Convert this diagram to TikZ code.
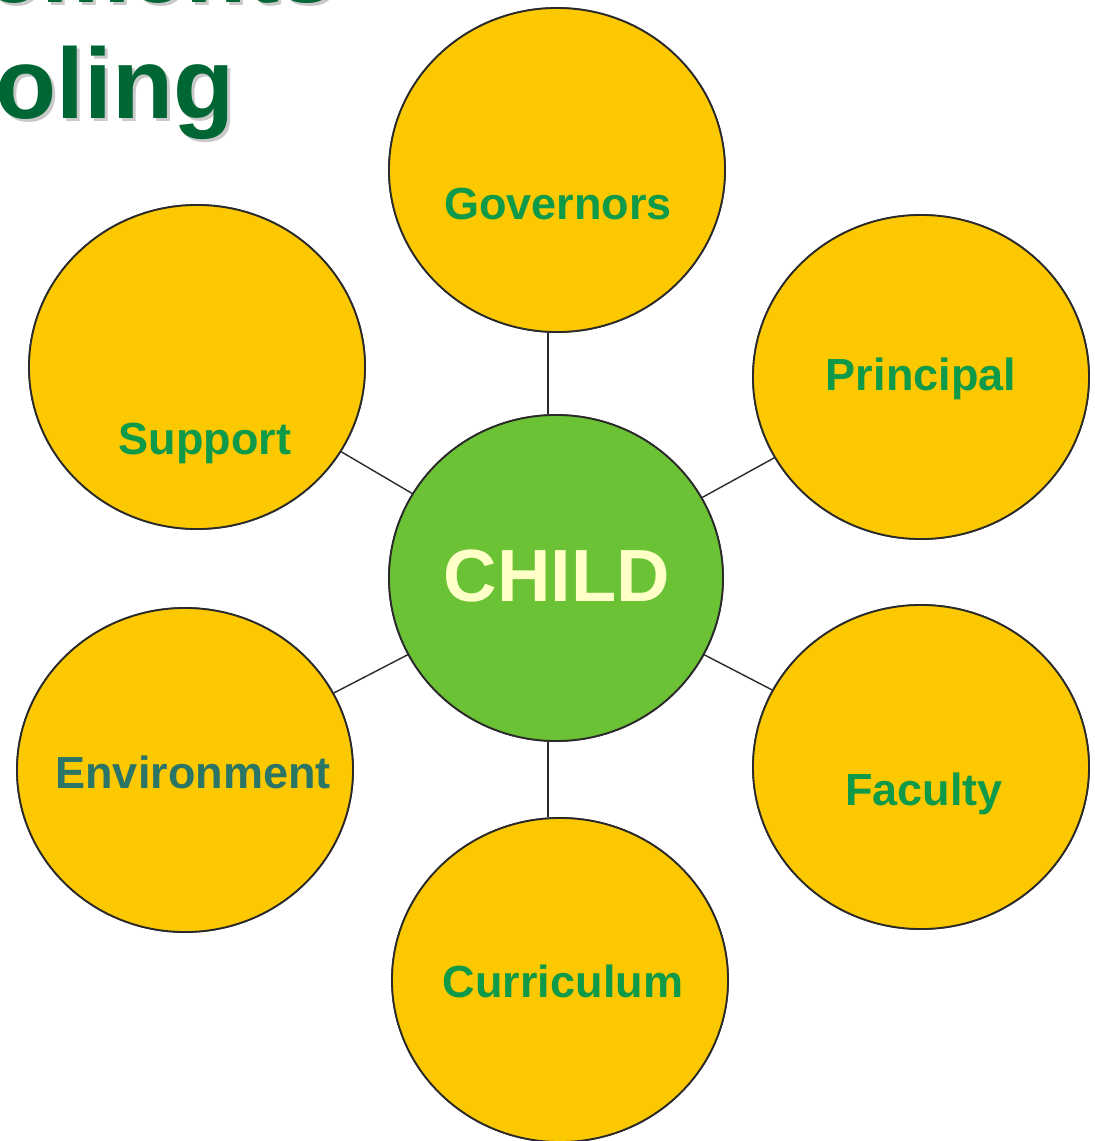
\documentclass[tikz,border=0pt]{standalone}
\usepackage{fontspec}
\setmainfont{Liberation Sans}
\usetikzlibrary{shapes.geometric}
\definecolor{gold}{HTML}{FCC800}
\definecolor{childgreen}{HTML}{6CC235}
\definecolor{childtext}{HTML}{FFFFC8}
\definecolor{labelgreen}{HTML}{0E9A48}
\definecolor{envteal}{HTML}{2A7566}
\definecolor{titlegreen}{HTML}{006633}
\definecolor{edge}{HTML}{2A2A2A}
\tikzset{
  bubble/.style={ellipse, draw=edge, line width=0.9pt, fill=gold, minimum width=168pt, minimum height=162pt, inner sep=0pt},
  childbubble/.style={bubble, fill=childgreen, minimum width=167pt, minimum height=163pt},
  lbl/.style={text=labelgreen, font=\fontsize{22.5}{27}\selectfont\bfseries, inner sep=0pt},
  link/.style={draw=edge, line width=0.7pt},
  title/.style={text=titlegreen, font=\fontsize{50}{60}\selectfont\bfseries, inner sep=0pt, anchor=base east},
  titleshadow/.style={text=black!35, opacity=0.6, font=\fontsize{50}{60}\selectfont\bfseries, inner sep=0pt, anchor=base east}
}
\begin{document}
\begin{tikzpicture}[x=0.5pt,y=-0.5pt]
\useasboundingbox (0,0) rectangle (1094,1141);
\clip (0,0) rectangle (1094,1141);
\fill[white] (0,0) rectangle (1094,1141);
% title (cut off at the picture's edge, as in the reference)
\node[titleshadow] (t1s) at (339,5) {Elements};
\node[title] (t1) at (336,2) {Elements};
\node[titleshadow] (t2s) at (238,121) {Schooling};
\node[title] (t2) at (235,118) {Schooling};
% bubbles
\node[childbubble] (child) at (556,578) {};
\node[bubble] (gov) at (557,170) {};
\node[bubble] (prin) at (921,377) {};
\node[bubble] (supp) at (197,367) {};
\node[bubble] (env) at (185,770) {};
\node[bubble] (fac) at (921,767) {};
\node[bubble] (curr) at (560,980) {};
% connectors
\draw[link] ([xshift=-4pt]child.north) -- ([xshift=-4pt]child.north |- gov.south);
\draw[link] ([xshift=-4pt]child.south) -- ([xshift=-4pt]child.south |- curr.north);
\draw[link] (child) -- (prin);
\draw[link] (child) -- (supp);
\draw[link] (child) -- (env);
\draw[link] (child) -- (fac);
% redraw bubbles on top of the links
\node[childbubble] at (child) {};
\node[bubble] at (gov) {};
\node[bubble] at (prin) {};
\node[bubble] at (supp) {};
\node[bubble] at (env) {};
\node[bubble] at (fac) {};
\node[bubble] at (curr) {};
% labels
\node[text=childtext, font=\fontsize{37}{44}\selectfont\bfseries, inner sep=0pt] (childlbl) at (557,576) {CHILD};
\node[lbl] (govlbl) at (558,204) {Governors};
\node[lbl] (prinlbl) at (921,379) {Principal};
\node[lbl] (supplbl) at (205,443) {Support};
\node[lbl, text=envteal] (envlbl) at (193,772) {Environment};
\node[lbl] (faclbl) at (924,794) {Faculty};
\node[lbl] (currlbl) at (563,981) {Curriculum};
\end{tikzpicture}
\end{document}
